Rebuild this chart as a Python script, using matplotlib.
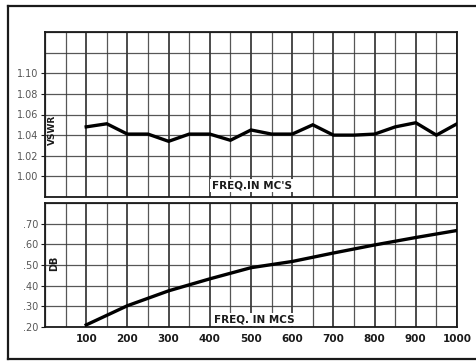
import matplotlib
matplotlib.use("Agg")
import matplotlib.pyplot as plt
from matplotlib.lines import Line2D
from matplotlib.ticker import MultipleLocator

# frequency in Mc/s
freq = [100, 150, 200, 250, 300, 350, 400, 450, 500, 550,
        600, 650, 700, 750, 800, 850, 900, 950, 1000]
vswr = [1.048, 1.051, 1.041, 1.041, 1.034, 1.041, 1.041, 1.035, 1.045, 1.041,
        1.041, 1.050, 1.040, 1.040, 1.041, 1.048, 1.052, 1.040, 1.051]

db_freq = [100, 200, 300, 400, 500, 600, 700, 800, 900, 1000]
db_loss = [0.21, 0.303, 0.375, 0.433, 0.487, 0.517, 0.558, 0.597, 0.633, 0.667]

vswr_ticks = [1.00, 1.02, 1.04, 1.06, 1.08, 1.10]
vswr_labels = ["1.00", "1.02", "1.04", "1.06", "1.08", "1.10"]
db_ticks = [0.2, 0.3, 0.4, 0.5, 0.6, 0.7]
db_labels = [".20", ".30", ".40", ".50", ".60", ".70"]
x_ticks = [100, 200, 300, 400, 500, 600, 700, 800, 900, 1000]

W, H = 477, 364
fig = plt.figure(figsize=(W / 100, H / 100), dpi=100)
fig.patch.set_facecolor("white")

INK = "#1a1a1a"
GRID = "#3a3a3a"


def px(x0, y0, x1, y1):
    return [x0 / W, 1 - y1 / H, (x1 - x0) / W, (y1 - y0) / H]


def grid_up(ax, ymin, ymax, ystep):
    ax.set_xlim(0, 1000)
    ax.set_ylim(ymin, ymax)
    ax.xaxis.set_minor_locator(MultipleLocator(50))
    ax.yaxis.set_minor_locator(MultipleLocator(ystep))
    ax.grid(True, which="both", color=GRID, lw=0.9, alpha=0.85)
    ax.grid(True, which="major", axis="x", color=INK, lw=1.1, alpha=1)
    ax.set_axisbelow(True)
    ax.tick_params(which="minor", length=0)
    for s in ax.spines.values():
        s.set_color(INK)
        s.set_linewidth(1.3)


# upper panel: VSWR
ax1 = fig.add_axes(px(45, 32, 457, 197))
grid_up(ax1, 0.98, 1.14, 0.02)
ax1.plot(freq, vswr, color="black", lw=2.4, solid_joinstyle="miter", zorder=3)
ax1.set_xticks(x_ticks)
ax1.set_xticklabels([])
ax1.tick_params(axis="x", length=0)
ax1.set_yticks(vswr_ticks)
ax1.set_yticklabels(vswr_labels)
ax1.tick_params(axis="y", length=3, color=INK, labelsize=7, labelcolor="#555555", pad=2)
ax1.text(18, 1.045, "VSWR", rotation=90, ha="center", va="center",
         fontsize=6.5, fontweight="bold", color=INK, zorder=4)
ax1.text(405, 0.991, "FREQ.IN MC'S", ha="left", va="center", fontsize=7.5,
         fontweight="bold", color=INK, zorder=4,
         bbox=dict(boxstyle="square,pad=0.15", facecolor="white", edgecolor="none"))

# lower panel: DB
ax2 = fig.add_axes(px(45, 203, 457, 327))
grid_up(ax2, 0.2, 0.8, 0.1)
ax2.plot(db_freq, db_loss, color="black", lw=2.4, zorder=3)
ax2.set_xticks(x_ticks)
ax2.set_xticklabels([str(v) for v in x_ticks])
ax2.tick_params(axis="x", length=0, labelsize=7.5, pad=5, labelcolor=INK)
for lab in ax2.get_xticklabels():
    lab.set_fontweight("bold")
ax2.set_yticks(db_ticks)
ax2.set_yticklabels(db_labels)
ax2.tick_params(axis="y", length=3, color=INK, labelsize=7, labelcolor="#555555", pad=2)
ax2.text(22, 0.51, "DB", rotation=90, ha="center", va="center",
         fontsize=7, fontweight="bold", color=INK, zorder=4)
ax2.text(410, 0.235, "FREQ. IN MCS", ha="left", va="center", fontsize=7.5,
         fontweight="bold", color=INK, zorder=4,
         bbox=dict(boxstyle="square,pad=0.15", facecolor="white", edgecolor="none"))

# outer frame of the printed figure
for xs, ys in [((8, 8), (6, 359)), ((8, 477), (6, 6)), ((8, 477), (359, 359))]:
    fig.add_artist(Line2D([x / W for x in xs], [1 - y / H for y in ys],
                          color=INK, lw=1.6))

fig.savefig("out.png", dpi=100, facecolor="white")
